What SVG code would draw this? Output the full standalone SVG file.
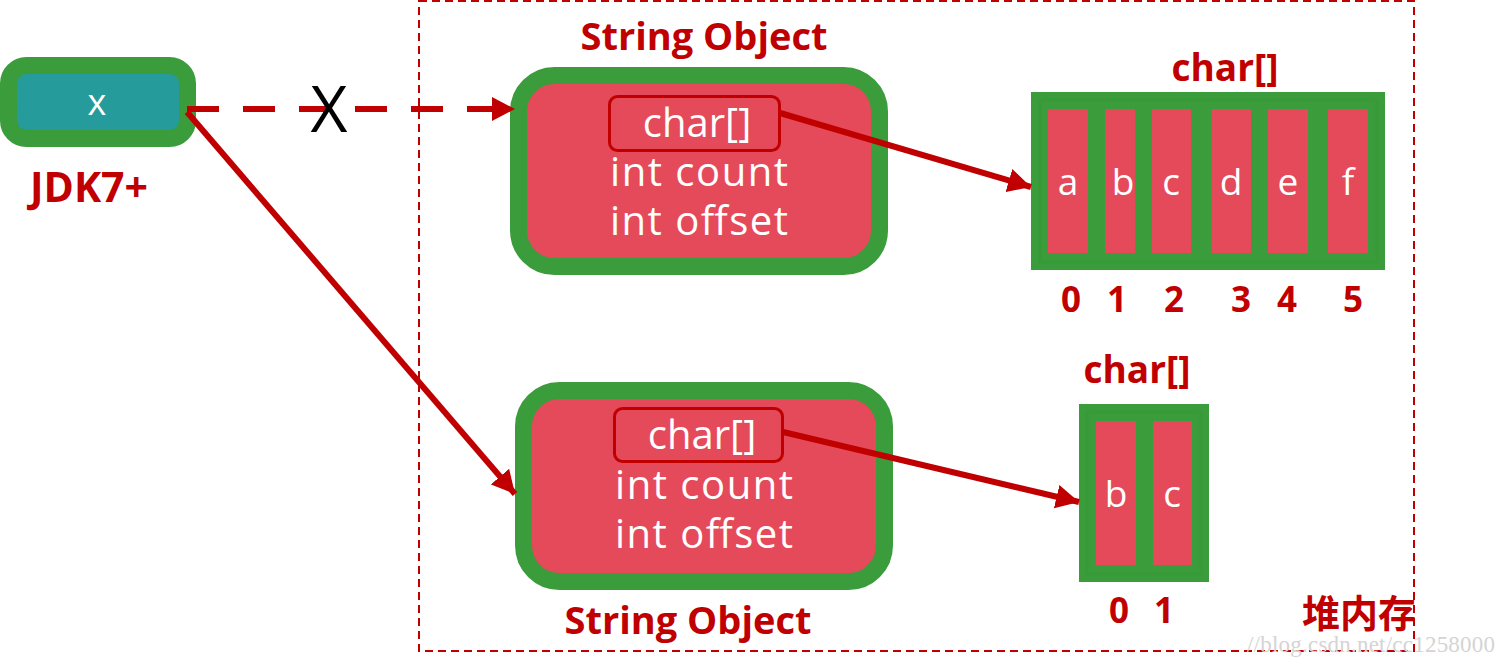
<svg xmlns="http://www.w3.org/2000/svg" width="1507" height="666" viewBox="0 0 1507 666">
<style>
.lbl{font-family:"Open Sans","Noto Sans",sans-serif;font-weight:bold;fill:#c00000;text-anchor:middle}
.w{font-family:"Open Sans","Noto Sans",sans-serif;fill:#ffffff;text-anchor:middle}
.cell{fill:#e54a5a}
.grn{fill:#3b9c3c}
.con{stroke:#c00000;stroke-width:6;fill:none}
</style>
<defs>
<marker id="ah" markerUnits="userSpaceOnUse" markerWidth="24" markerHeight="24" refX="23" refY="12" orient="auto">
<path d="M0,0 L23,12 L0,24 z" fill="#c00000"/>
</marker>
</defs>
<rect width="1507" height="666" fill="#ffffff"/>
<g id="heap-frame">
<rect x="419" y="1" width="995" height="650" fill="none" stroke="#c00000" stroke-width="2" stroke-dasharray="8 5"/>
<text class="lbl" x="1359" y="627" font-size="38" style="font-family:'Noto Sans CJK SC',sans-serif">堆内存</text>
</g>
<g id="x-ref">
<rect x="8.5" y="65.5" width="179" height="73" rx="18" fill="#259b9b" stroke="#3b9c3c" stroke-width="17"/>
<text class="w" x="97" y="115" font-size="36">x</text>
<text class="lbl" x="89" y="202" font-size="41">JDK7+</text>
</g>
<g id="string1">
<text class="lbl" x="704" y="50" font-size="38">String Object</text>
<rect x="518.5" y="75.5" width="361" height="191" rx="36" fill="#e54a5a" stroke="#3b9c3c" stroke-width="17"/>
<rect x="609.5" y="96.5" width="170" height="54" rx="8" fill="#e54a5a" stroke="#c00000" stroke-width="3"/>
<text class="w" x="697" y="137" font-size="40">char[]</text>
<text class="w" x="699" y="186" font-size="40" textLength="178" lengthAdjust="spacing">int count</text>
<text class="w" x="699" y="235" font-size="40" textLength="178" lengthAdjust="spacing">int offset</text>
</g>
<g id="string2">
<rect x="523.5" y="390.5" width="361" height="191" rx="36" fill="#e54a5a" stroke="#3b9c3c" stroke-width="17"/>
<rect x="614.5" y="408.5" width="168" height="53" rx="8" fill="#e54a5a" stroke="#c00000" stroke-width="3"/>
<text class="w" x="702" y="449" font-size="40">char[]</text>
<text class="w" x="704" y="499" font-size="40" textLength="178" lengthAdjust="spacing">int count</text>
<text class="w" x="704" y="548" font-size="40" textLength="178" lengthAdjust="spacing">int offset</text>
<text class="lbl" x="688" y="634" font-size="38">String Object</text>
</g>
<g id="array1">
<text class="lbl" x="1225" y="81" font-size="37">char[]</text>
<rect class="grn" x="1031" y="92" width="354" height="178"/>
<rect x="1040" y="100" width="337" height="162" fill="none" stroke="#379a37" stroke-width="3"/>
<rect class="cell" x="1048" y="109" width="40" height="144"/>
<rect class="cell" x="1105" y="109" width="30" height="144"/>
<rect class="cell" x="1152" y="109" width="39" height="144"/>
<rect class="cell" x="1212" y="109" width="39" height="144"/>
<rect class="cell" x="1268" y="109" width="40" height="144"/>
<rect class="cell" x="1328" y="109" width="40" height="144"/>
<text class="w" x="1068" y="195" font-size="37">a</text>
<text class="w" x="1123" y="195" font-size="37">b</text>
<text class="w" x="1171" y="195" font-size="37">c</text>
<text class="w" x="1231" y="195" font-size="37">d</text>
<text class="w" x="1288" y="195" font-size="37">e</text>
<text class="w" x="1348" y="195" font-size="37">f</text>
<text class="lbl" x="1071" y="312" font-size="35">0</text>
<text class="lbl" x="1117" y="312" font-size="35">1</text>
<text class="lbl" x="1174" y="312" font-size="35">2</text>
<text class="lbl" x="1241" y="312" font-size="35">3</text>
<text class="lbl" x="1287" y="312" font-size="35">4</text>
<text class="lbl" x="1353" y="312" font-size="35">5</text>
</g>
<g id="array2">
<text class="lbl" x="1137" y="383" font-size="37">char[]</text>
<rect class="grn" x="1079" y="404" width="130" height="178"/>
<rect x="1087" y="412" width="114" height="162" fill="none" stroke="#379a37" stroke-width="3"/>
<rect class="cell" x="1096" y="421" width="40" height="144"/>
<rect class="cell" x="1153" y="421" width="39" height="144"/>
<text class="w" x="1116" y="507" font-size="37">b</text>
<text class="w" x="1172" y="507" font-size="37">c</text>
<text class="lbl" x="1119" y="623" font-size="35">0</text>
<text class="lbl" x="1164" y="623" font-size="35">1</text>
</g>
<g id="connectors">
<line class="con" x1="187" y1="109" x2="515" y2="109" stroke-dasharray="32 24" marker-end="url(#ah)"/>
<line class="con" x1="187" y1="112" x2="515" y2="494" stroke-width="5" marker-end="url(#ah)"/>
<line class="con" x1="780" y1="113" x2="1031" y2="187" stroke-width="5" marker-end="url(#ah)"/>
<line class="con" x1="783" y1="432" x2="1079" y2="502" stroke-width="5" marker-end="url(#ah)"/>
</g>
<text x="329" y="132" font-family="'Open Sans',sans-serif" font-size="64" fill="#000000" text-anchor="middle">X</text>
<text x="1495" y="652" font-family="'Liberation Serif',serif" font-size="23" fill="#d4d4d4" text-anchor="end" textLength="248" lengthAdjust="spacing">//blog.csdn.net/cc1258000</text>
</svg>
